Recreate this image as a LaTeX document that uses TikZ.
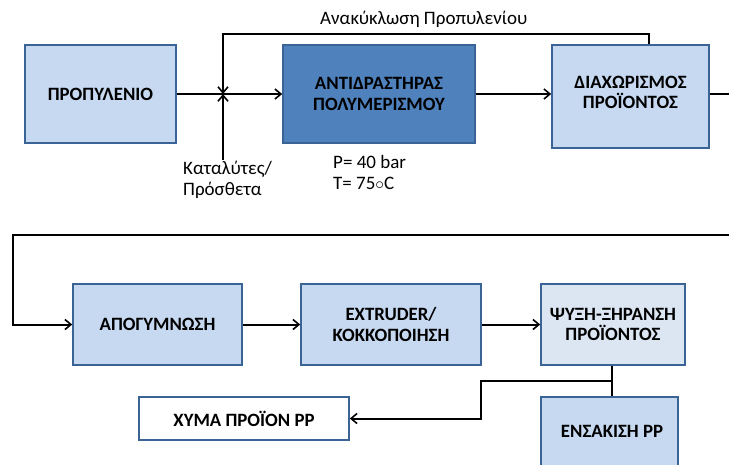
\documentclass[tikz,border=0pt]{standalone}
\usepackage{fontspec}
\setmainfont{Carlito}
\usetikzlibrary{arrows.meta,calc}
\definecolor{lightfill}{HTML}{C6D9F1}
\definecolor{palefill}{HTML}{DCE6F2}
\definecolor{darkfill}{HTML}{4F81BD}
\definecolor{edgecol}{HTML}{3A6496}
\tikzset{
  blk/.style={draw=edgecol, line width=1.6pt, fill=lightfill, align=center, inner sep=0pt,
    font=\fontsize{18.8}{20.5}\selectfont\bfseries},
  lbl/.style={font=\fontsize{19}{21}\selectfont, inner sep=0pt, align=left},
  conn/.style={line width=2pt, draw=black},
  arr/.style={conn, -{Straight Barb[length=6pt,width=10pt,line width=1.6pt]}},
}
\begin{document}
\begin{tikzpicture}[x=1pt,y=-1pt]
\clip (0,0) rectangle (729,464);
\fill[white] (0,0) rectangle (729,464);
% boxes
\node[blk, minimum width=151, minimum height=98] (prop) at (100.5,94) {ΠΡΟΠΥΛΕΝΙΟ};
\node[blk, fill=darkfill, minimum width=192, minimum height=98] (reac) at (379,94) {ΑΝΤΙΔΡΑΣΤΗΡΑΣ\\ΠΟΛΥΜΕΡΙΣΜΟΥ};
\node[blk, minimum width=157, minimum height=103] (sep) at (630.5,96.5) {ΔΙΑΧΩΡΙΣΜΟΣ\\ΠΡΟΪΟΝΤΟΣ\\[-12pt]\mbox{}};
\node[blk, minimum width=169, minimum height=81] (apog) at (157.5,324.5) {ΑΠΟΓΥΜΝΩΣΗ};
\node[blk, minimum width=180, minimum height=81] (extr) at (391,324.5) {EXTRUDER/\\ΚΟΚΚΟΠΟΙΗΣΗ};
\node[blk, fill=palefill, minimum width=144, minimum height=81] (psy) at (613,324.5) {ΨΥΞΗ-ΞΗΡΑΝΣΗ\\ΠΡΌΙΟΝΤΟΣ};
\node[blk, fill=white, minimum width=210, minimum height=43] (xyma) at (244,418.5) {ΧΥΜΑ ΠΡΟΪΟΝ PP};
\node[blk, minimum width=137, minimum height=90] (ens) at (609.5,442) {};
\node[font=\fontsize{18.8}{20.5}\selectfont\bfseries, inner sep=0pt] (enst) at (612,431) {ΕΝΣΑΚΙΣΗ PP};
% labels
\node[lbl, anchor=west] (rlbl) at (320,19) {Ανακύκλωση Προπυλενίου};
\node[lbl, anchor=north west] (clbl) at (183,161) {Καταλύτες/\\Πρόσθετα};
\node[lbl, anchor=north west] (plbl) at (333,155) {P= 40 bar\\T= 75$\circ$C};
% coordinates
\coordinate (j) at (223,94);
\coordinate (rtop) at (223,34);
\coordinate (rc) at (649,34);
\coordinate (cat) at (223,160);
\coordinate (out1) at (730,94);
\coordinate (in2) at (730,235);
\coordinate (c2) at (13,235);
\coordinate (b1) at (612,381);
\coordinate (b2) at (481,381);
% connectors
\draw[arr] (prop.east) -- (reac.west);
\draw[arr] (rc |- sep.north) -- (rc) -- (rtop) -- (j);
\draw[arr] (cat) -- (j);
\draw[arr] (reac.east) -- (reac.east -| sep.west);
\draw[conn] (sep.east |- j) -- (out1);
\draw[arr] (in2) -- (c2) |- (apog.west);
\draw[arr] (apog.east) -- (extr.west);
\draw[arr] (extr.east) -- (psy.west);
\draw[conn] (psy.south -| b1) -- (b1 |- ens.north);
\draw[arr] (b1) -- (b2) |- (xyma.east);
\end{tikzpicture}
\end{document}
